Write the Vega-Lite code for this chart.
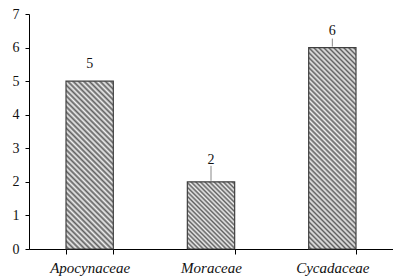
{
  "$schema": "https://vega.github.io/schema/vega-lite/v6.json",
  "width": 364,
  "height": 235,
  "autosize": "none",
  "padding": {"left": 29, "top": 14, "right": 0, "bottom": 31},
  "background": "white",
  "config": {"view": {"stroke": null}, "font": "Liberation Serif"},
  "data": {"values": [
    {"family": "Apocynaceae", "count": 5},
    {"family": "Moraceae", "count": 2},
    {"family": "Cycadaceae", "count": 6}
  ]},
  "encoding": {
    "x": {"field": "family", "type": "nominal", "sort": null,
      "scale": {"domain": ["Apocynaceae", "Moraceae", "Cycadaceae"], "paddingInner": 0.61, "paddingOuter": 0.305},
      "axis": {"title": null, "labelAngle": 0, "labelFont": "Liberation Serif", "labelFontStyle": "italic", "labelFontSize": 15, "labelColor": "#111", "domainColor": "#000", "tickColor": "#000", "tickSize": 5, "tickBand": "extent", "labelPadding": 6}},
    "y": {"field": "count", "type": "quantitative",
      "scale": {"domain": [0, 7], "nice": false},
      "axis": {"title": null, "values": [0, 1, 2, 3, 4, 5, 6, 7], "grid": false, "labelFont": "Liberation Serif", "labelFontSize": 14, "labelColor": "#111", "domainColor": "#000", "tickColor": "#000", "tickSize": 4, "labelPadding": 6}}
  },
  "layer": [
    {"transform": [{"filter": "datum.family === 'Apocynaceae'"}],
     "mark": {"type": "bar", "stroke": "#404040", "strokeWidth": 1.2,
       "fill": {"gradient": "linear", "x1": 0, "y1": 1, "x2": 0.3346, "y2": -0.1875, "stops": [
        {"offset": 0, "color": "#f0f0f0"}, {"offset": 0.0125, "color": "#606060"}, {"offset": 0.025, "color": "#f0f0f0"}, {"offset": 0.0375, "color": "#606060"},
        {"offset": 0.05, "color": "#f0f0f0"}, {"offset": 0.0625, "color": "#606060"}, {"offset": 0.075, "color": "#f0f0f0"}, {"offset": 0.0875, "color": "#606060"},
        {"offset": 0.1, "color": "#f0f0f0"}, {"offset": 0.1125, "color": "#606060"}, {"offset": 0.125, "color": "#f0f0f0"}, {"offset": 0.1375, "color": "#606060"},
        {"offset": 0.15, "color": "#f0f0f0"}, {"offset": 0.1625, "color": "#606060"}, {"offset": 0.175, "color": "#f0f0f0"}, {"offset": 0.1875, "color": "#606060"},
        {"offset": 0.2, "color": "#f0f0f0"}, {"offset": 0.2125, "color": "#606060"}, {"offset": 0.225, "color": "#f0f0f0"}, {"offset": 0.2375, "color": "#606060"},
        {"offset": 0.25, "color": "#f0f0f0"}, {"offset": 0.2625, "color": "#606060"}, {"offset": 0.275, "color": "#f0f0f0"}, {"offset": 0.2875, "color": "#606060"},
        {"offset": 0.3, "color": "#f0f0f0"}, {"offset": 0.3125, "color": "#606060"}, {"offset": 0.325, "color": "#f0f0f0"}, {"offset": 0.3375, "color": "#606060"},
        {"offset": 0.35, "color": "#f0f0f0"}, {"offset": 0.3625, "color": "#606060"}, {"offset": 0.375, "color": "#f0f0f0"}, {"offset": 0.3875, "color": "#606060"},
        {"offset": 0.4, "color": "#f0f0f0"}, {"offset": 0.4125, "color": "#606060"}, {"offset": 0.425, "color": "#f0f0f0"}, {"offset": 0.4375, "color": "#606060"},
        {"offset": 0.45, "color": "#f0f0f0"}, {"offset": 0.4625, "color": "#606060"}, {"offset": 0.475, "color": "#f0f0f0"}, {"offset": 0.4875, "color": "#606060"},
        {"offset": 0.5, "color": "#f0f0f0"}, {"offset": 0.5125, "color": "#606060"}, {"offset": 0.525, "color": "#f0f0f0"}, {"offset": 0.5375, "color": "#606060"},
        {"offset": 0.55, "color": "#f0f0f0"}, {"offset": 0.5625, "color": "#606060"}, {"offset": 0.575, "color": "#f0f0f0"}, {"offset": 0.5875, "color": "#606060"},
        {"offset": 0.6, "color": "#f0f0f0"}, {"offset": 0.6125, "color": "#606060"}, {"offset": 0.625, "color": "#f0f0f0"}, {"offset": 0.6375, "color": "#606060"},
        {"offset": 0.65, "color": "#f0f0f0"}, {"offset": 0.6625, "color": "#606060"}, {"offset": 0.675, "color": "#f0f0f0"}, {"offset": 0.6875, "color": "#606060"},
        {"offset": 0.7, "color": "#f0f0f0"}, {"offset": 0.7125, "color": "#606060"}, {"offset": 0.725, "color": "#f0f0f0"}, {"offset": 0.7375, "color": "#606060"},
        {"offset": 0.75, "color": "#f0f0f0"}, {"offset": 0.7625, "color": "#606060"}, {"offset": 0.775, "color": "#f0f0f0"}, {"offset": 0.7875, "color": "#606060"},
        {"offset": 0.8, "color": "#f0f0f0"}, {"offset": 0.8125, "color": "#606060"}, {"offset": 0.825, "color": "#f0f0f0"}, {"offset": 0.8375, "color": "#606060"},
        {"offset": 0.85, "color": "#f0f0f0"}, {"offset": 0.8625, "color": "#606060"}, {"offset": 0.875, "color": "#f0f0f0"}, {"offset": 0.8875, "color": "#606060"},
        {"offset": 0.9, "color": "#f0f0f0"}, {"offset": 0.9125, "color": "#606060"}, {"offset": 0.925, "color": "#f0f0f0"}, {"offset": 0.9375, "color": "#606060"},
        {"offset": 0.95, "color": "#f0f0f0"}, {"offset": 0.9625, "color": "#606060"}, {"offset": 0.975, "color": "#f0f0f0"}, {"offset": 0.9875, "color": "#606060"},
        {"offset": 1, "color": "#f0f0f0"}
       ]}}},
    {"transform": [{"filter": "datum.family === 'Moraceae'"}],
     "mark": {"type": "bar", "stroke": "#404040", "strokeWidth": 1.2,
       "fill": {"gradient": "linear", "x1": 0, "y1": 1, "x2": 0.8025, "y2": -0.1392, "stops": [
        {"offset": 0, "color": "#f0f0f0"}, {"offset": 0.02, "color": "#606060"}, {"offset": 0.04, "color": "#f0f0f0"}, {"offset": 0.06, "color": "#606060"},
        {"offset": 0.08, "color": "#f0f0f0"}, {"offset": 0.1, "color": "#606060"}, {"offset": 0.12, "color": "#f0f0f0"}, {"offset": 0.14, "color": "#606060"},
        {"offset": 0.16, "color": "#f0f0f0"}, {"offset": 0.18, "color": "#606060"}, {"offset": 0.2, "color": "#f0f0f0"}, {"offset": 0.22, "color": "#606060"},
        {"offset": 0.24, "color": "#f0f0f0"}, {"offset": 0.26, "color": "#606060"}, {"offset": 0.28, "color": "#f0f0f0"}, {"offset": 0.3, "color": "#606060"},
        {"offset": 0.32, "color": "#f0f0f0"}, {"offset": 0.34, "color": "#606060"}, {"offset": 0.36, "color": "#f0f0f0"}, {"offset": 0.38, "color": "#606060"},
        {"offset": 0.4, "color": "#f0f0f0"}, {"offset": 0.42, "color": "#606060"}, {"offset": 0.44, "color": "#f0f0f0"}, {"offset": 0.46, "color": "#606060"},
        {"offset": 0.48, "color": "#f0f0f0"}, {"offset": 0.5, "color": "#606060"}, {"offset": 0.52, "color": "#f0f0f0"}, {"offset": 0.54, "color": "#606060"},
        {"offset": 0.56, "color": "#f0f0f0"}, {"offset": 0.58, "color": "#606060"}, {"offset": 0.6, "color": "#f0f0f0"}, {"offset": 0.62, "color": "#606060"},
        {"offset": 0.64, "color": "#f0f0f0"}, {"offset": 0.66, "color": "#606060"}, {"offset": 0.68, "color": "#f0f0f0"}, {"offset": 0.7, "color": "#606060"},
        {"offset": 0.72, "color": "#f0f0f0"}, {"offset": 0.74, "color": "#606060"}, {"offset": 0.76, "color": "#f0f0f0"}, {"offset": 0.78, "color": "#606060"},
        {"offset": 0.8, "color": "#f0f0f0"}, {"offset": 0.82, "color": "#606060"}, {"offset": 0.84, "color": "#f0f0f0"}, {"offset": 0.86, "color": "#606060"},
        {"offset": 0.88, "color": "#f0f0f0"}, {"offset": 0.9, "color": "#606060"}, {"offset": 0.92, "color": "#f0f0f0"}, {"offset": 0.94, "color": "#606060"},
        {"offset": 0.96, "color": "#f0f0f0"}, {"offset": 0.98, "color": "#606060"}, {"offset": 1, "color": "#f0f0f0"}
       ]}}},
    {"transform": [{"filter": "datum.family === 'Cycadaceae'"}],
     "mark": {"type": "bar", "stroke": "#404040", "strokeWidth": 1.2,
       "fill": {"gradient": "linear", "x1": 0, "y1": 1, "x2": 0.2748, "y2": -0.1703, "stops": [
        {"offset": 0, "color": "#f0f0f0"}, {"offset": 0.01, "color": "#606060"}, {"offset": 0.02, "color": "#f0f0f0"}, {"offset": 0.03, "color": "#606060"},
        {"offset": 0.04, "color": "#f0f0f0"}, {"offset": 0.05, "color": "#606060"}, {"offset": 0.06, "color": "#f0f0f0"}, {"offset": 0.07, "color": "#606060"},
        {"offset": 0.08, "color": "#f0f0f0"}, {"offset": 0.09, "color": "#606060"}, {"offset": 0.1, "color": "#f0f0f0"}, {"offset": 0.11, "color": "#606060"},
        {"offset": 0.12, "color": "#f0f0f0"}, {"offset": 0.13, "color": "#606060"}, {"offset": 0.14, "color": "#f0f0f0"}, {"offset": 0.15, "color": "#606060"},
        {"offset": 0.16, "color": "#f0f0f0"}, {"offset": 0.17, "color": "#606060"}, {"offset": 0.18, "color": "#f0f0f0"}, {"offset": 0.19, "color": "#606060"},
        {"offset": 0.2, "color": "#f0f0f0"}, {"offset": 0.21, "color": "#606060"}, {"offset": 0.22, "color": "#f0f0f0"}, {"offset": 0.23, "color": "#606060"},
        {"offset": 0.24, "color": "#f0f0f0"}, {"offset": 0.25, "color": "#606060"}, {"offset": 0.26, "color": "#f0f0f0"}, {"offset": 0.27, "color": "#606060"},
        {"offset": 0.28, "color": "#f0f0f0"}, {"offset": 0.29, "color": "#606060"}, {"offset": 0.3, "color": "#f0f0f0"}, {"offset": 0.31, "color": "#606060"},
        {"offset": 0.32, "color": "#f0f0f0"}, {"offset": 0.33, "color": "#606060"}, {"offset": 0.34, "color": "#f0f0f0"}, {"offset": 0.35, "color": "#606060"},
        {"offset": 0.36, "color": "#f0f0f0"}, {"offset": 0.37, "color": "#606060"}, {"offset": 0.38, "color": "#f0f0f0"}, {"offset": 0.39, "color": "#606060"},
        {"offset": 0.4, "color": "#f0f0f0"}, {"offset": 0.41, "color": "#606060"}, {"offset": 0.42, "color": "#f0f0f0"}, {"offset": 0.43, "color": "#606060"},
        {"offset": 0.44, "color": "#f0f0f0"}, {"offset": 0.45, "color": "#606060"}, {"offset": 0.46, "color": "#f0f0f0"}, {"offset": 0.47, "color": "#606060"},
        {"offset": 0.48, "color": "#f0f0f0"}, {"offset": 0.49, "color": "#606060"}, {"offset": 0.5, "color": "#f0f0f0"}, {"offset": 0.51, "color": "#606060"},
        {"offset": 0.52, "color": "#f0f0f0"}, {"offset": 0.53, "color": "#606060"}, {"offset": 0.54, "color": "#f0f0f0"}, {"offset": 0.55, "color": "#606060"},
        {"offset": 0.56, "color": "#f0f0f0"}, {"offset": 0.57, "color": "#606060"}, {"offset": 0.58, "color": "#f0f0f0"}, {"offset": 0.59, "color": "#606060"},
        {"offset": 0.6, "color": "#f0f0f0"}, {"offset": 0.61, "color": "#606060"}, {"offset": 0.62, "color": "#f0f0f0"}, {"offset": 0.63, "color": "#606060"},
        {"offset": 0.64, "color": "#f0f0f0"}, {"offset": 0.65, "color": "#606060"}, {"offset": 0.66, "color": "#f0f0f0"}, {"offset": 0.67, "color": "#606060"},
        {"offset": 0.68, "color": "#f0f0f0"}, {"offset": 0.69, "color": "#606060"}, {"offset": 0.7, "color": "#f0f0f0"}, {"offset": 0.71, "color": "#606060"},
        {"offset": 0.72, "color": "#f0f0f0"}, {"offset": 0.73, "color": "#606060"}, {"offset": 0.74, "color": "#f0f0f0"}, {"offset": 0.75, "color": "#606060"},
        {"offset": 0.76, "color": "#f0f0f0"}, {"offset": 0.77, "color": "#606060"}, {"offset": 0.78, "color": "#f0f0f0"}, {"offset": 0.79, "color": "#606060"},
        {"offset": 0.8, "color": "#f0f0f0"}, {"offset": 0.81, "color": "#606060"}, {"offset": 0.82, "color": "#f0f0f0"}, {"offset": 0.83, "color": "#606060"},
        {"offset": 0.84, "color": "#f0f0f0"}, {"offset": 0.85, "color": "#606060"}, {"offset": 0.86, "color": "#f0f0f0"}, {"offset": 0.87, "color": "#606060"},
        {"offset": 0.88, "color": "#f0f0f0"}, {"offset": 0.89, "color": "#606060"}, {"offset": 0.9, "color": "#f0f0f0"}, {"offset": 0.91, "color": "#606060"},
        {"offset": 0.92, "color": "#f0f0f0"}, {"offset": 0.93, "color": "#606060"}, {"offset": 0.94, "color": "#f0f0f0"}, {"offset": 0.95, "color": "#606060"},
        {"offset": 0.96, "color": "#f0f0f0"}, {"offset": 0.97, "color": "#606060"}, {"offset": 0.98, "color": "#f0f0f0"}, {"offset": 0.99, "color": "#606060"},
        {"offset": 1, "color": "#f0f0f0"}
       ]}}},
    {"transform": [{"filter": "datum.family === 'Moraceae'"}],
     "mark": {"type": "rule", "color": "#888", "strokeWidth": 1, "yOffset": -1, "y2Offset": -16},
     "encoding": {"y2": {"field": "count"}}},
    {"transform": [{"filter": "datum.family === 'Cycadaceae'"}],
     "mark": {"type": "rule", "color": "#888", "strokeWidth": 1, "yOffset": -1, "y2Offset": -9},
     "encoding": {"y2": {"field": "count"}}},
    {"transform": [{"filter": "datum.family !== 'Moraceae'"}],
     "mark": {"type": "text", "baseline": "alphabetic", "dy": -13, "fontSize": 14, "color": "#111", "font": "Liberation Serif"},
     "encoding": {"text": {"field": "count", "type": "quantitative"}}},
    {"transform": [{"filter": "datum.family === 'Moraceae'"}],
     "mark": {"type": "text", "baseline": "alphabetic", "dy": -18, "fontSize": 14, "color": "#111", "font": "Liberation Serif"},
     "encoding": {"text": {"field": "count", "type": "quantitative"}}}
  ]
}
